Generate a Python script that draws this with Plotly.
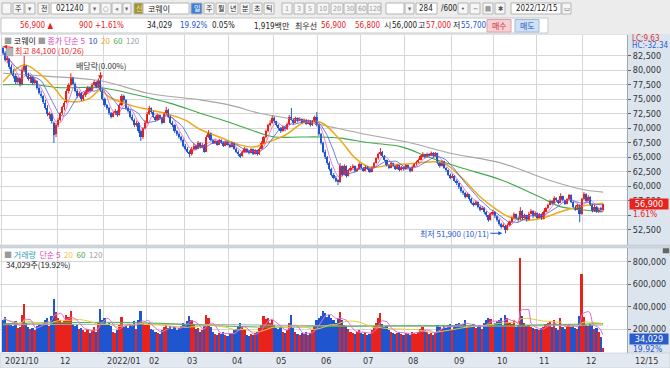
import plotly.graph_objects as go
import pandas as pd

# ---------------- data ----------------
opens = [
 83800,83000,81800,82000,80500,79600,79000,78000,78600,77600,80000,80700,79000,78600,78800,77800,78200,77000,76000,75500,74400,73500,72300,72500,71000,69000,
 70600,71500,72600,73600,74500,76500,77500,78600,77700,76500,75500,76100,75000,75700,76200,77000,76500,77500,78000,77200,78300,76600,
 75000,74000,73500,72600,72000,72600,73000,72300,74000,75500,74800,73500,73000,72000,71500,70500,71000,69500,68500,70000,
 71000,72500,73500,72800,72000,71500,72300,71800,71000,72500,73200,72000,71000,70500,69500,69000,68500,68000,
 67000,66500,66000,65500,66500,67000,66500,67500,66800,67200,66000,68500,69200,68000,67500,67800,67200,68000,67500,67000,67600,
 67200,66800,67500,66500,66000,65500,65200,66000,66500,66000,65800,66400,65600,66200,65500,66500,67500,68500,69500,70500,71000,
 71800,71200,70500,70000,69500,70300,69800,70800,72000,71500,71000,71800,71300,71600,71000,71500,70800,71300,70500,71200,72000,
 70500,69000,67500,66000,65000,64000,63000,62000,61500,61000,60800,63500,62000,63500,61800,62800,63200,63500,62600,63000,
 63800,63200,62700,63400,63000,62500,63300,64000,64800,65500,66000,65300,64500,63600,63200,64000,63500,63000,63600,62800,63300,
 62900,63600,63100,62600,63400,63800,64200,64600,65200,65500,65000,65600,65300,65800,65200,65700,64000,63500,64300,63200,62800,62000,
 61500,61800,61000,60500,59800,59200,58800,58200,58600,57800,57200,56800,57300,56500,56000,56300,55500,55000,54200,55200,
 55600,54800,54200,53500,53000,53200,52500,53300,53800,54500,55200,54600,54200,55800,54500,55000,54200,55300,55800,54800,
 55400,54600,55200,54400,55600,56200,56800,57500,57100,58000,57600,57200,58300,57600,57000,57800,58500,57300,56500,56000,56800,55200,
 57800,58600,57500,58200,56800,55800,56500,55600,56300,56000]
highs = [
 84100,83300,82600,82100,81000,80200,79400,78900,78800,80500,82500,80900,79600,79100,78900,78600,78300,77200,76500,75700,74900,74000,72900,72600,71200,70900,
 71800,72800,73900,74700,76800,77800,79500,78900,77900,76800,76400,76200,76000,76500,77300,77200,77800,78300,78100,78600,78500,76800,
 75300,74200,73700,72800,72900,73300,73100,74300,75900,75800,75000,73800,73200,72400,71700,71300,71100,69800,70200,71400,
 72800,73900,73600,73000,72200,72500,72400,72000,72800,73700,73400,72200,71300,70700,69700,69300,68700,68200,
 67300,66800,66200,66800,67400,67200,67800,67600,67500,67300,68800,69700,69300,68200,68100,67900,68200,68100,67700,67800,67700,
 67300,67700,67600,66700,66200,65700,66200,66800,66600,66200,66600,66500,66400,66300,66700,67800,68700,69800,70800,71400,72200,
 72000,71300,70700,70200,70500,70400,71000,72300,73500,71700,72000,71900,71900,71700,71700,71600,71500,71400,71400,72200,72800,
 70700,69200,67700,66300,65200,64300,63200,62300,61800,61200,64000,63600,63800,63600,63000,63500,63800,63600,63200,64100,
 63900,63300,63600,63500,63100,63500,64200,65000,65800,66600,66100,65400,64600,63800,64200,64100,63600,63800,63700,63500,63400,
 63800,63700,63200,63600,64000,64400,64800,65400,65900,65600,65800,65700,66000,65900,65900,65800,64200,64500,64400,63300,62900,62200,
 62100,61900,61200,60600,60000,59400,59000,58900,58700,58000,57400,57500,57400,56700,56600,56400,55700,55100,55500,55900,
 55700,55000,54400,53700,53600,53300,53600,54100,54800,55500,55300,54800,56400,55900,55300,55100,55600,56100,55900,55700,
 55500,55400,55300,55800,56400,57000,57700,57600,58300,58100,57700,58800,58400,57700,58000,58700,58600,57400,56700,57000,56900,58000,
 59000,58800,58500,58300,57000,56800,56600,56300,56500,57000]
lows = [
 82700,81500,81200,80200,79300,78600,77600,77700,77200,77400,79800,78800,78200,77800,77500,77600,76700,75800,75200,74200,73200,72100,71600,70800,67500,68500,
 70200,71200,72300,73100,74300,76000,77200,77400,76200,75200,75300,74700,74800,75400,76000,76200,76400,77200,76900,77000,76300,74800,
 73700,73200,72300,71700,71900,72300,72000,72200,73800,74500,73200,72700,71700,71200,70200,70300,69200,67800,68200,69800,
 70800,72300,72500,71800,71200,71400,71500,70700,70900,72300,71800,70700,70200,69200,68700,68200,67700,66700,
 66200,65700,65000,65300,66200,66200,66400,66500,66600,65800,65900,68300,67800,67300,67300,67000,67100,67300,66800,66900,67000,
 66600,66700,66300,65700,65200,64900,65100,65800,65800,65500,65700,65400,65500,65300,65400,66400,67300,68300,69300,70300,70800,
 70900,70300,69700,69200,69400,69500,69700,70600,71300,70700,70900,71000,71200,70800,70900,70600,70700,70300,70400,71000,70300,
 68700,67200,65700,64700,63700,62700,61700,61200,60700,60200,60600,61700,61900,61500,61700,62600,63000,62400,62500,62900,
 63000,62500,62600,62800,62300,62400,63200,63900,64600,65300,65000,64300,63400,63000,63100,63300,62800,62900,62600,62700,62700,
 62800,62900,62400,62500,63300,63600,64000,64500,65000,64800,64900,65100,65200,65000,65100,63800,63200,63400,63000,62500,61800,61200,
 61400,60800,60200,59500,58900,58500,57900,58100,57500,56900,56500,56700,56200,55700,55900,55200,54700,53900,54100,55000,
 54500,53900,53200,52700,52900,51900,52400,53100,53700,54300,54300,53900,54100,54200,54400,53900,54100,55200,54500,54700,
 54400,54500,54200,54300,55500,56100,56700,56800,57000,57300,56900,57100,57400,56800,56900,57700,57100,56300,55800,55900,53800,55100,
 57600,57300,57400,56600,55500,55600,55400,55400,55500,55700]
closes = [
 83000,81800,82200,80500,79600,79000,78000,78600,77500,80100,80800,79100,78500,78900,77800,78300,77000,76100,75500,74500,73500,72400,72500,71200,68800,70600,
 71500,72600,73600,74400,76500,77500,78600,77700,76500,75500,76100,75000,75800,76200,77000,76500,77500,78000,77200,78300,76600,75100,
 74000,73500,72600,72000,72600,73000,72300,74000,75500,74800,73500,73000,72000,71500,70500,71000,69500,68500,70000,71000,
 72500,73500,72800,72000,71500,72300,71800,71000,72500,73200,72000,71000,70500,69500,69000,68500,68000,67000,
 66500,66000,65500,66500,67000,66500,67500,66800,67200,66000,68500,69200,68000,67500,67800,67200,68000,67500,67000,67600,67200,
 66800,67500,66500,66000,65500,65200,66000,66500,66000,65800,66400,65600,66200,65500,66500,67500,68500,69500,70500,71000,71800,
 71200,70500,70000,69500,70300,69800,70800,72000,71500,71000,71800,71300,71600,71000,71500,70800,71300,70500,71200,72000,70500,
 69000,67500,66000,65000,64000,63000,62000,61500,61000,60800,63500,62000,63500,61800,62800,63200,63500,62600,63000,63800,
 63200,62700,63400,63000,62500,63300,64000,64800,65500,66000,65300,64500,63600,63200,64000,63500,63000,63600,62800,63300,62900,
 63600,63100,62600,63400,63800,64200,64600,65200,65500,65000,65600,65300,65800,65200,65700,64000,63500,64300,63200,62800,62000,61500,
 61800,61000,60500,59800,59200,58800,58200,58600,57800,57200,56800,57300,56500,56000,56300,55500,55000,54200,55200,55600,
 54800,54200,53500,53000,53200,52500,53300,53800,54500,55200,54600,54200,55800,54500,55000,54200,55300,55800,54800,55400,
 54600,55200,54400,55600,56200,56800,57500,57100,58000,57600,57200,58300,57600,57000,57800,58500,57300,56500,56000,56800,55200,57800,
 58600,57500,58200,56800,55800,56500,55600,56000,56000,56900]
volumes = [
 280000,310000,250000,260000,240000,230000,270000,210000,220000,330000,420000,260000,220000,200000,210000,190000,230000,250000,240000,260000,280000,300000,230000,320000,470000,350000,
 300000,280000,260000,270000,330000,310000,360000,250000,230000,240000,200000,210000,190000,180000,200000,170000,190000,220000,180000,260000,380000,280000,
 300000,250000,260000,230000,180000,170000,190000,240000,310000,220000,230000,210000,250000,240000,270000,200000,280000,360000,260000,240000,
 250000,260000,200000,190000,180000,170000,160000,190000,220000,240000,210000,230000,200000,220000,190000,210000,230000,260000,
 250000,270000,320000,280000,240000,200000,210000,180000,190000,230000,330000,300000,220000,180000,160000,150000,170000,160000,180000,150000,140000,
 160000,170000,190000,200000,230000,260000,220000,200000,150000,140000,160000,150000,170000,180000,210000,240000,320000,290000,300000,260000,280000,
 240000,210000,200000,220000,180000,170000,190000,260000,330000,210000,180000,160000,150000,170000,160000,180000,150000,170000,190000,230000,280000,
 300000,320000,360000,340000,310000,330000,300000,280000,260000,300000,350000,280000,240000,230000,200000,180000,170000,160000,180000,190000,
 170000,160000,180000,150000,160000,190000,230000,260000,300000,340000,250000,220000,230000,190000,180000,170000,160000,170000,180000,160000,150000,
 170000,160000,150000,180000,170000,160000,180000,200000,220000,190000,180000,160000,170000,150000,180000,240000,220000,200000,230000,210000,240000,250000,
 200000,230000,250000,260000,240000,250000,280000,220000,230000,240000,250000,210000,230000,240000,200000,260000,280000,300000,290000,230000,
 260000,270000,280000,300000,240000,330000,300000,260000,250000,270000,220000,240000,830000,320000,260000,230000,240000,220000,210000,200000,
 200000,190000,210000,220000,250000,260000,270000,220000,280000,210000,190000,300000,220000,200000,230000,250000,220000,230000,210000,200000,320000,690000,
 310000,240000,230000,250000,240000,200000,210000,180000,130000,34029]

# moving averages (sparse points)
ma20_idx = [0,10,17,25,29,36,41,46,50,60,69,79,86,93,102,112,119,124,133,142,150,159,166,173,183,192,201,208,216,225,232,239,249,256,263,272,283]
ma20_val = [78000,80900,79500,76600,74900,74600,75200,76600,75400,74000,73200,72300,71400,69800,68500,67100,66800,67500,68800,71000,71000,68000,64900,63300,63700,63900,64200,64000,61600,58200,56200,54700,54200,54700,55600,56500,57100]
ma60_idx = [0,15,27,46,60,79,93,107,121,128,140,150,159,173,188,201,216,235,253,263,272,283]
ma60_val = [77500,77500,77000,77000,76000,74300,72600,71000,69200,68500,68500,68500,68300,67500,66800,65000,63200,61100,58200,56500,56000,55600]
ma120_idx = [0,20,46,69,93,107,121,140,155,168,192,211,235,258,274,283]
ma120_val = [79500,79000,78200,76000,74900,74000,72600,71400,70200,69200,67500,65700,64000,61000,59400,59000]
vma60_idx = [0,60,120,180,240,283]
vma60_val = [250000,260000,220000,230000,235000,250000]
vma120_idx = [0,80,160,240,283]
vma120_val = [240000,245000,230000,228000,238000]

month_labels = ["2021/10","12","2022/01","02","03","04","05","06","07","08","09","10","11","12"]
month_start = [0,26,48,68,86,107,128,149,169,190,212,232,252,274]
last_date = "12/15"
dividend_idx = 46
high_date, low_date = "10/26", "10/11"
price_ticks = [52500,55000,57500,60000,62500,65000,67500,70000,72500,75000,77500,80000,82500]
price_tick_text = ["52,500","","57,500","60,000","62,500","65,000","67,500","70,000","72,500","75,000","77,500","80,000","82,500"]
vol_ticks = [200000,400000,600000,800000]

# ---------------- styling ----------------
RED = "#e8221c"; BLUE = "#1f56d0"
FONT = "Noto Sans CJK KR, Noto Sans, sans-serif"
NARROW = "Liberation Sans Narrow, DejaVu Sans Condensed, Noto Sans CJK KR, sans-serif"
PW = 627.0  # plot width px
def PX(px): return px / PW
def PY(py): return (353.0 - py) / 318.0

n = len(closes)
idx = list(range(n))
s = pd.Series(closes, dtype=float)
ma5 = s.rolling(5, min_periods=1).mean()
ma10 = s.rolling(10, min_periods=1).mean()
v = pd.Series(volumes, dtype=float)
vma5 = v.rolling(5, min_periods=1).mean()
vma20 = v.rolling(20, min_periods=1).mean()
up = [c >= o for o, c in zip(opens, closes)]
vcolors = [RED if u else BLUE for u in up]

fig = go.Figure()
for xs, ys, col, w, shp in [
        (ma120_idx, ma120_val, "#a6a6a6", 1.1, "spline"),
        (ma60_idx, ma60_val, "#3fa84a", 1.1, "spline"),
        (ma20_idx, ma20_val, "#f0a818", 1.5, "spline"),
        (idx, list(ma10), "#4a5fd8", 0.8, "linear"),
        (idx, list(ma5), "#e060d0", 0.8, "linear")]:
    fig.add_trace(go.Scatter(x=xs, y=ys, mode="lines", line=dict(color=col, width=w, shape=shp),
                             xaxis="x", yaxis="y", hoverinfo="skip"))
# candles: wicks + bodies
for flag, col in [(True, RED), (False, BLUE)]:
    wx, wy = [], []
    for i in idx:
        if up[i] == flag:
            wx += [i, i, None]; wy += [lows[i], highs[i], None]
    fig.add_trace(go.Scatter(x=wx, y=wy, mode="lines", line=dict(color=col, width=1),
                             xaxis="x", yaxis="y", hoverinfo="skip", connectgaps=False))
    bx = [i for i in idx if up[i] == flag]
    base = [min(opens[i], closes[i]) for i in bx]
    hgt = [max(abs(closes[i] - opens[i]), 80) for i in bx]
    fig.add_trace(go.Bar(x=bx, y=hgt, base=base, width=0.78, marker=dict(color=col, line=dict(width=0)),
                         xaxis="x", yaxis="y", hoverinfo="skip"))
fig.add_trace(go.Bar(x=idx, y=volumes, marker=dict(color=vcolors, line=dict(width=0)), width=0.8,
                     xaxis="x", yaxis="y2", hoverinfo="skip"))
for xs, ys, col, shp in [
        (vma120_idx, vma120_val, "#a8a8a8", "spline"),
        (vma60_idx, vma60_val, "#4caf50", "spline"),
        (idx, list(vma20), "#e8cc3a", "linear"),
        (idx, list(vma5), "#e070d8", "linear")]:
    fig.add_trace(go.Scatter(x=xs, y=ys, mode="lines", line=dict(color=col, width=1, shape=shp),
                             xaxis="x", yaxis="y2", hoverinfo="skip"))

shapes = []
ann = []
def rect(x0, y0, x1, y1, fill, line="#b4b4b4", lw=1, layer="above"):
    shapes.append(dict(type="rect", xref="paper", yref="paper", x0=PX(x0), x1=PX(x1),
                       y0=PY(y0), y1=PY(y1), fillcolor=fill, line=dict(color=line, width=lw), layer=layer))
def txt(px, py, t, color="#222", size=9, anchor="left", family=FONT):
    ann.append(dict(xref="paper", yref="paper", x=PX(px), y=PY(py), text=t, showarrow=False,
                    xanchor=anchor, yanchor="middle", font=dict(family=family, size=size, color=color)))

# toolbar background
rect(0, 0, 670, 34, "#ececec", line="#ececec", lw=0)
rect(1, 18, 548, 33, "#ffffff", line="#c8c8c8")
# row 1 controls
rect(2, 3, 11, 14, "#f6f6f6")
for x0, x1, t, fill, fc in [(13,24,"주","#f6f6f6","#222"),(25,35,"▾","#f6f6f6","#666"),(38,49,"전","#f6f6f6","#222"),
                             (90,100,"▾","#f6f6f6","#666"),(101,111,"○","#f6f6f6","#777"),(112,122,"◂","#f6f6f6","#888"),
                             (123,131,"▾","#f6f6f6","#666"),(134,143,"신","#9e9432","#ffe08a"),
                             (191,202,"일","#3f7fd8","#ffffff"),(204,214,"주","#f6f6f6","#222"),(216,226,"월","#f6f6f6","#222"),
                             (228,238,"년","#f6f6f6","#222"),(240,250,"분","#f6f6f6","#222"),(252,262,"초","#f6f6f6","#222"),
                             (264,274,"틱","#f6f6f6","#222"),(282,292,"1","#f6f6f6","#999"),(294,304,"3","#f6f6f6","#999"),
                             (305,315,"5","#f6f6f6","#999"),(317,329,"10","#f6f6f6","#999"),(331,343,"20","#f6f6f6","#999"),
                             (344,355,"30","#f6f6f6","#999"),(356,367,"60","#f6f6f6","#999"),(368,381,"120","#f6f6f6","#999"),
                             (405,414,"▾","#f6f6f6","#666"),(458,468,"•","#f6f6f6","#555"),(470,480,"~","#f6f6f6","#555"),
                             (483,493,"▤","#f6f6f6","#555"),(495,505,"✱","#f6f6f6","#555"),(562,571,"▭","#f6f6f6","#555")]:
    rect(x0, 3, x1, 14, fill)
    txt((x0 + x1) / 2, 8.5, t, color=fc, size=7, anchor="center", family=NARROW)
rect(51, 3, 89, 14, "#ffffff")
txt(54, 8.5, "021240", size=8, family=NARROW)
rect(143, 3, 189, 14, "#ffffff")
txt(146, 8.5, "코웨이", size=8)
rect(386, 3, 404, 14, "#ffffff")
rect(416, 3, 437, 14, "#ffffff")
txt(435, 8.5, "284", size=8, anchor="right", family=NARROW)
txt(439, 8.5, "/600", size=8, family=NARROW)
rect(511, 3, 561, 14, "#ffffff")
txt(514, 8.5, "2022/12/15", size=8, family=NARROW)
# row 2 quote line
for px, t, col in [(18,"56,900 ▲",RED),(77,"900",RED),(93,"+1.61%",RED),(145,"34,029","#222"),(178,"19.92%",BLUE),
                   (210,"0.05%","#222"),(252,"1,919백만","#222"),(293,"최우선","#222"),(319,"56,900",RED),
                   (353,"56,800",RED),(382,"시","#222"),(390,"56,000","#222"),(416,"고","#222"),(424,"57,000",RED),
                   (451,"저","#222"),(459,"55,700",BLUE)]:
    txt(px, 26, t, color=col, size=8, family=NARROW)
rect(487, 19.5, 511, 32, "#f7d0d4", line="#e0a0a8")
txt(499, 26, "매수", color="#c8323c", size=8, anchor="center")
rect(515, 19.5, 539, 32, "#cfe0f7", line="#a0b8e0")
txt(527, 26, "매도", color="#2a58c0", size=8, anchor="center")

# panel separator, x label band, small panel icons
rect(0, 245, 670, 248, "#d0d6de", line="#b8c0ca", lw=0.5)
rect(0, 353, 670, 368, "#e3e9f1", line="#b8c0ca", lw=0.5, layer="below")
rect(6, 48, 13, 56, "#b4b4b4", line="#999999", lw=0.5)
rect(663, 248.5, 669, 253, "#666666", line="#666666", lw=0.5)

# panel titles
txt(2, 40, '<span style="color:#9a9a9a">■</span> 코웨이 <span style="color:#9a9a9a">■</span> '
           '<span style="color:#d846c4">종가 단순 5</span>  <span style="color:#3048c8">10</span>  '
           '<span style="color:#e8a818">20</span>  <span style="color:#3fa84a">60</span>  '
           '<span style="color:#a0a0a0">120</span>', size=8)
txt(2, 254, '<span style="color:#9a9a9a">■</span> <span style="color:#2aa0bc">거래량</span>  '
            '<span style="color:#d846c4">단순 5</span>  <span style="color:#e8cc3a">20</span>  '
            '<span style="color:#3fa84a">60</span>  <span style="color:#a0a0a0">120</span>', size=8)
txt(4, 264, f"{volumes[-1]:,}주(19.92%)", size=8)

# chart markers
hi = max(range(n), key=lambda i: highs[i])
lo = min(range(n), key=lambda i: lows[i])
ann.append(dict(x=hi, y=highs[hi], xref="x", yref="y", text=f"최고 {highs[hi]:,} ({high_date})",
                showarrow=True, ax=46, ay=4, arrowhead=2, arrowsize=0.8, arrowwidth=1, arrowcolor=RED,
                font=dict(family=FONT, size=8, color=RED)))
ann.append(dict(x=lo - 1.5, y=lows[lo], xref="x", yref="y", text=f"최저 {lows[lo]:,} ({low_date})",
                showarrow=True, ax=-48, ay=0, arrowhead=2, arrowsize=0.8, arrowwidth=1, arrowcolor=BLUE,
                font=dict(family=FONT, size=8, color=BLUE)))
ann.append(dict(x=dividend_idx, y=highs[dividend_idx] - 200, xref="x", yref="y", text="배당락(0.00%)",
                showarrow=True, ax=0, ay=-15, arrowhead=2, arrowsize=0.8, arrowwidth=1.2, arrowcolor=RED,
                font=dict(family=FONT, size=8, color="#333")))
# right side badges
last = closes[-1]
ann.append(dict(xref="paper", yref="y", x=PX(629), y=last, text=f"{last:,}", showarrow=False, xanchor="left",
                yanchor="middle", bgcolor=RED, font=dict(family=NARROW, size=9, color="white"), width=38,
                height=10, borderpad=0))
ann.append(dict(xref="paper", yref="y", x=PX(631), y=last - 1600, text="1.61%", showarrow=False, xanchor="left",
                yanchor="middle", font=dict(family=NARROW, size=8.5, color=RED)))
ann.append(dict(xref="paper", yref="y2", x=PX(629), y=110000, text=f"{volumes[-1]:,}", showarrow=False, xanchor="left",
                yanchor="middle", bgcolor="#2a5ccc", font=dict(family=NARROW, size=9, color="white"), width=38,
                height=10, borderpad=0))
ann.append(dict(xref="paper", yref="y2", x=PX(631), y=24000, text="19.92%", showarrow=False, xanchor="left",
                yanchor="middle", font=dict(family=NARROW, size=8.5, color=BLUE)))
txt(630, 38.5, "LC:9.63", color="#e03030", size=8, family=NARROW)
txt(630, 45.5, "HC:-32.34", color="#2f60d0", size=8, family=NARROW)
# x labels
for lab, m in zip(month_labels, month_start):
    ann.append(dict(xref="x", yref="paper", x=m - 0.5, y=PY(360.5), text=lab, showarrow=False,
                    xanchor="left", yanchor="middle", xshift=1, font=dict(family=NARROW, size=9, color="#333")))
txt(633, 360.5, last_date, color="#333", size=9, family=NARROW)

fig.update_layout(
    width=670, height=368, autosize=False, margin=dict(l=0, r=43, t=35, b=15),
    paper_bgcolor="#dce4ee", plot_bgcolor="#ffffff", showlegend=False, bargap=0, barmode="overlay",
    font=dict(family=FONT, size=9, color="#333"),
    xaxis=dict(domain=[0, 1], anchor="y2", range=[-1.415, 294.3], tickvals=[m - 0.5 for m in month_start],
               showticklabels=False, showgrid=True, gridcolor="#d6d6d6", gridwidth=1, zeroline=False,
               ticks="", showline=False, fixedrange=True),
    yaxis=dict(domain=[PY(245), 1], side="right", anchor="x", range=[49880, 86085], tickvals=price_ticks,
               ticktext=price_tick_text, showgrid=True, gridcolor="#d6d6d6", zeroline=False,
               ticks="outside", ticklen=3, tickcolor="#666", showline=True, linecolor="#9aa8b8",
               tickfont=dict(family=NARROW, size=9, color="#333")),
    yaxis2=dict(domain=[0, PY(248)], side="right", anchor="x", range=[-10600, 921000], tickvals=vol_ticks,
                ticktext=[f"{t:,}" for t in vol_ticks], showgrid=True, gridcolor="#d6d6d6", zeroline=False,
                ticks="outside", ticklen=3, tickcolor="#666", showline=True, linecolor="#9aa8b8",
                tickfont=dict(family=NARROW, size=9, color="#333")),
    shapes=shapes, annotations=ann)

fig.write_html("out.html", config={"displayModeBar": False})
